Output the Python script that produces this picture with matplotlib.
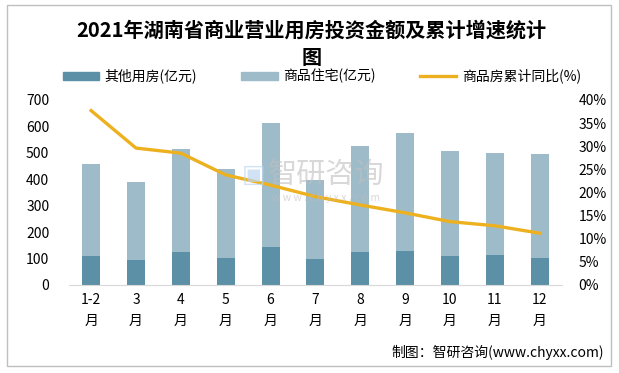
import numpy as np
import matplotlib.pyplot as plt
from matplotlib.patches import Patch
from matplotlib.lines import Line2D

plt.rcParams['font.family'] = ['Noto Sans CJK SC', 'DejaVu Sans']

# data
months = ['1-2\n月', '3\n月', '4\n月', '5\n月', '6\n月', '7\n月',
          '8\n月', '9\n月', '10\n月', '11\n月', '12\n月']
other = [110, 95, 125, 102, 144, 98, 125, 129, 110, 114, 102]
housing = [348, 295, 390, 337, 469, 299, 401, 446, 397, 385, 394]
growth = [37.7, 29.6, 28.5, 23.8, 21.6, 19.1, 17.3, 15.6, 13.7, 12.8, 11.2]

c_other = '#5B90A6'
c_house = '#9EBBC9'
c_line = '#EDB120'

fig = plt.figure(figsize=(6.19, 3.73), dpi=100)
ax = fig.add_axes([0.111, 0.236, 0.797, 0.496])
x = np.arange(len(months))
ax.bar(x, other, width=0.4, color=c_other, zorder=2)
ax.bar(x, housing, width=0.4, bottom=other, color=c_house, zorder=2)
ax.set_xlim(-0.5, len(months) - 0.5)
ax.set_ylim(0, 700)
ax.set_yticks(range(0, 701, 100))
ax.set_xticks(x)
ax.set_xticklabels(months, fontsize=10, linespacing=1.6)
ax.tick_params(axis='both', length=0, labelsize=10)
ax.tick_params(axis='x', pad=6)
ax.tick_params(axis='y', pad=14)
for s in ['top', 'right', 'left']:
    ax.spines[s].set_visible(False)
ax.spines['bottom'].set_color('#D9D9D9')

ax2 = ax.twinx()
ax2.plot(x, growth, color=c_line, lw=2.4, zorder=3)
ax2.set_ylim(0, 40)
ax2.set_yticks(range(0, 41, 5))
ax2.set_yticklabels([f'{v}%' for v in range(0, 41, 5)])
ax2.tick_params(axis='y', length=0, labelsize=10, pad=12)
for s in ax2.spines.values():
    s.set_visible(False)

# watermark
fig.text(0.527, 0.531, '智研咨询', fontsize=21, color='#BFBFBF', alpha=0.6,
         ha='center', va='center')
fig.text(0.527, 0.469, 'w w w . c h y x x . c o m', fontsize=7.5, color='#BFBFBF',
         alpha=0.6, ha='center', va='center')
fig.text(0.41, 0.531, '▣', fontsize=18, color='#BDD7EE', alpha=0.7,
         ha='center', va='center', family=['DejaVu Sans'])

fig.text(0.503, 0.882, '2021年湖南省商业营业用房投资金额及累计增速统计\n图',
         fontsize=14.5, fontweight='bold', ha='center', va='center',
         linespacing=1.35)

handles = [Patch(color=c_other), Patch(color=c_house),
           Line2D([0], [0], color=c_line, lw=2.4)]
labels = ['其他用房(亿元)', '商品住宅(亿元)', '商品房累计同比(%)']
fig.legend(handles, labels, loc='center', bbox_to_anchor=(0.52, 0.796), ncol=3,
           frameon=False, fontsize=10, handlelength=2.6, handleheight=0.5,
           handletextpad=0.4, columnspacing=3.2)

fig.text(0.975, 0.055, '制图：智研咨询(www.chyxx.com)', fontsize=10,
         ha='right', va='center')

fig.add_artist(plt.Rectangle((0.011, 0.018), 0.976, 0.968, fill=False,
                             edgecolor='#BFBFBF', lw=1, transform=fig.transFigure))

fig.savefig('out.png', dpi=100)
